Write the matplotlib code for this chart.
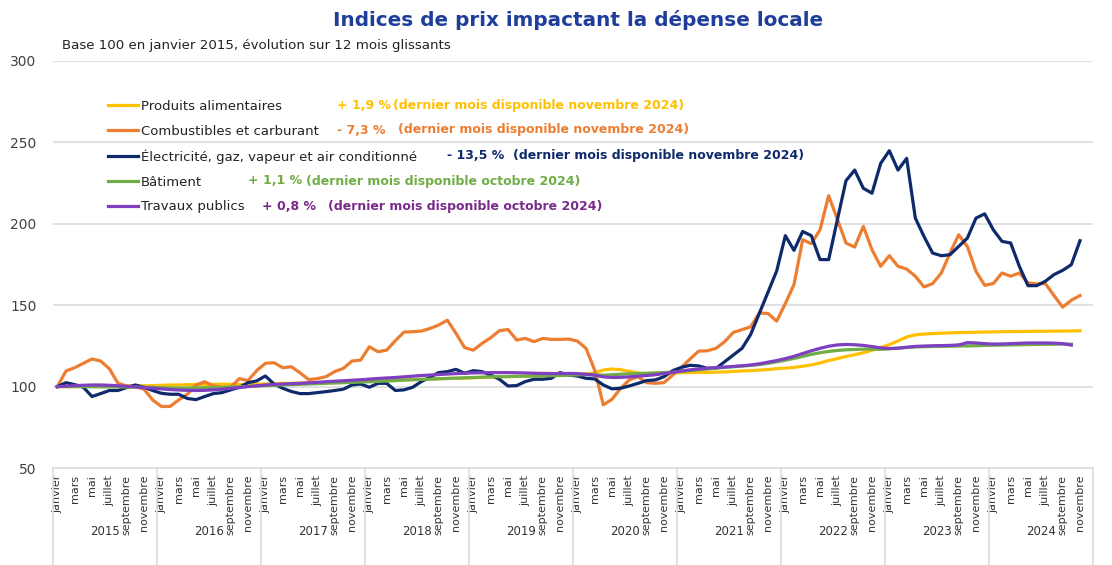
import matplotlib
matplotlib.use("Agg")
import matplotlib.pyplot as plt
from matplotlib.transforms import blended_transform_factory

plt.rcParams['font.family'] = ['DejaVu Sans']

years = ['2015', '2016', '2017', '2018', '2019', '2020', '2021', '2022', '2023', '2024']
month_labels = ['janvier', 'mars', 'mai', 'juillet', 'septembre', 'novembre']

alimentaires = [
    100, 100, 100, 100.2, 100.2, 100.3, 100.3, 100.2, 100.3, 100.5, 100.5, 100.6,
    100.8, 101, 101, 101.2, 101.3, 101.3, 101.4, 101.5, 101.4, 101.3, 101.3, 101.5,
    101.6, 101.8, 102, 102, 102.2, 102.3, 102.5, 102.6, 102.8, 103, 103.1, 103.3,
    103.5, 103.6, 103.8, 104, 104.1, 104.3, 104.5, 104.6, 104.8, 105, 105.1, 105.2,
    105.4, 105.6, 105.8, 106, 106.1, 106.3, 106.4, 106.5, 106.6, 106.8, 107, 107.1,
    107.3, 107.8, 108.5, 110.2, 110.8, 110.4, 109.3, 108.4, 108, 108.3, 108.2, 108.4,
    108.5, 108.6, 108.7, 108.7, 108.9, 109, 109.3, 109.6, 109.8, 110.1, 110.5, 111,
    111.3, 111.8, 112.5, 113.3, 114.5, 116, 117.2, 118.5, 119.6, 120.8, 122.3, 124,
    125.8, 128, 130.5, 131.8, 132.3, 132.6, 132.8, 133, 133.2, 133.3, 133.4, 133.5,
    133.6, 133.7, 133.8, 133.8, 133.9, 134, 134, 134.1, 134.1, 134.2, 134.3]

combustibles = [
    100, 109.6, 111.6, 114.3, 117, 115.7, 111, 102, 100.4, 100, 98.4, 91.8,
    87.8, 87.8, 91.8, 95.3, 101, 103, 100.4, 99.6, 99.6, 104.9, 103.7, 109.8,
    114.3, 114.7, 111.6, 112.2, 108.5, 104.3, 104.9, 106.1, 109.2, 111.2, 115.7, 116.3,
    124.5, 121.4, 122.4, 128.2, 133.5, 133.7, 134.1, 135.7, 137.8, 140.8, 132.7, 123.9,
    122.4, 126.5, 130, 134.3, 135.1, 128.6, 129.6, 127.6, 129.6, 129, 129, 129.2,
    128, 123.5, 110.2, 88.8, 92.2, 99, 104.1, 106.1, 102.4, 102, 102.4, 107.1,
    111.8, 116.9, 121.8, 122, 123.5, 127.6, 133.3, 135, 136.7, 145.3, 144.9, 140.2,
    151, 162.7, 190.2, 187.8, 196.3, 217.3, 202.9, 188.2, 185.7, 198.4, 184.1, 173.9,
    180.4, 173.9, 172.2, 167.8, 161.2, 163.3, 169.8, 182, 193.3, 186.1, 170.8, 162.2,
    163.3, 169.8, 167.8, 169.8, 163.7, 163.1, 163.3, 155.9, 148.8, 153.1, 155.9]

electricite = [
    100, 102.4, 101.2, 99.6, 93.9, 95.7, 97.6, 97.6, 99.4, 101, 99.6, 97.6,
    95.9, 95.3, 95.3, 92.7, 92, 93.9, 95.7, 96.3, 98, 99.6, 102.4, 103.5,
    106.5, 101.6, 99, 97, 95.7, 95.7, 96.3, 96.9, 97.6, 98.4, 101, 101.6,
    99.6, 102, 102, 97.6, 98, 99.6, 103.1, 105.7, 108.6, 109.2, 110.6, 108.2,
    109.8, 109.2, 107.1, 104.5, 100.4, 100.6, 103.1, 104.5, 104.5, 105.1, 108.6, 107.1,
    106.5, 105.1, 104.7, 101, 98.6, 99, 100.4, 102, 103.7, 104.1, 106.1, 109.8,
    111.8, 113.1, 112.7, 111.2, 111.2, 115.3, 119.4, 123.5, 132, 145, 158, 171,
    192.7, 183.7, 195.3, 192.7, 178, 178, 202.4, 226.5, 233, 221.8, 218.8, 237.1,
    244.9, 233, 240.2, 203.5, 192.2, 182, 180.4, 181, 186.1, 191.2, 203.5, 206.1,
    196.3, 189.2, 188.2, 173.9, 162, 162, 164.7, 168.8, 171.4, 174.9, 189.6]

batiment = [
    100, 100, 100, 100, 99.9, 99.9, 99.8, 99.8, 99.7, 99.7, 99.6, 99.5,
    99.3, 99.2, 99.1, 99.1, 99.2, 99.3, 99.4, 99.5, 99.7, 99.9, 100.1, 100.3,
    100.6, 100.8, 101, 101.2, 101.4, 101.6, 101.8, 102, 102.2, 102.4, 102.6, 102.8,
    103, 103.2, 103.4, 103.7, 104, 104.2, 104.4, 104.6, 104.8, 105, 105.2, 105.4,
    105.6, 105.8, 106, 106.1, 106.2, 106.3, 106.4, 106.5, 106.6, 106.7, 106.8, 107,
    107.2, 107.4, 107.3, 107, 107.3, 107.6, 107.9, 108, 108.2, 108.4, 108.6, 108.9,
    109.3, 109.8, 110.3, 110.8, 111.3, 111.8, 112.2, 112.6, 113, 113.5, 114.3, 115.2,
    116.2, 117.3, 118.5, 119.8, 120.8, 121.6, 122.2, 122.6, 122.8, 123, 123, 122.9,
    123.2, 123.6, 124, 124.3, 124.5, 124.6, 124.7, 124.8, 124.9, 125, 125.1, 125.3,
    125.4, 125.5, 125.6, 125.7, 125.8, 125.9, 126, 126, 126.1, 126.1]

travaux_publics = [
    100, 100.3, 100.6, 100.8, 101, 101, 100.8, 100.5, 100.2, 99.8, 99.4, 99,
    98.6, 98.2, 97.9, 97.7, 97.6, 97.7, 98, 98.4, 98.9, 99.4, 100, 100.5,
    101, 101.3, 101.6, 101.8, 102, 102.3, 102.6, 103, 103.3, 103.6, 103.9, 104.2,
    104.6, 105, 105.3, 105.6, 106, 106.4, 106.8, 107.1, 107.4, 107.7, 108, 108.2,
    108.4, 108.5, 108.6, 108.6, 108.6, 108.5, 108.4, 108.2, 108.1, 108, 108, 108.1,
    108, 107.6, 107, 106, 105.6, 105.7, 106, 106.4, 106.8, 107.3, 108, 108.8,
    109.6, 110.3, 110.8, 111.3, 111.7, 112, 112.4, 112.8, 113.3, 114, 115, 116,
    117.2, 118.6, 120.3, 122, 123.5, 124.8, 125.6, 125.9, 125.7, 125.3, 124.6, 123.8,
    123.4, 123.6, 124.2, 124.7, 124.9, 125.1, 125.2, 125.3, 125.6, 127, 126.8, 126.4,
    126.1, 126.2, 126.4, 126.6, 126.8, 126.8, 126.8, 126.7, 126.4, 125.5]

series_names = ['Produits alimentaires', 'Combustibles et carburant',
                'Électricité, gaz, vapeur et air conditionné', 'Bâtiment', 'Travaux publics']
evolutions = ['+ 1,9 %', '- 7,3 %', '- 13,5 %', '+ 1,1 %', '+ 0,8 %']
notes = ['(dernier mois disponible novembre 2024)', '(dernier mois disponible novembre 2024)',
         '(dernier mois disponible novembre 2024)', '(dernier mois disponible octobre 2024)',
         '(dernier mois disponible octobre 2024)']
yticks = [50, 100, 150, 200, 250, 300]

colors = ['#FFC000', '#ED7D31', '#0E2A6B', '#70AD47', '#7E3FC0']
text_colors = ['#FFC000', '#ED7D31', '#0E2A6B', '#70AD47', '#7A2A8C']

W, H = 1112, 565
fig = plt.figure(figsize=(W / 100, H / 100), dpi=100)
ax = fig.add_axes([53 / W, 97 / H, 1040 / W, 407 / H])

data = [alimentaires, combustibles, electricite, batiment, travaux_publics]
handles = []
for vals, c, name in zip(data, colors, series_names):
    h, = ax.plot(range(len(vals)), vals, color=c, lw=2.3, label=name, solid_joinstyle='round')
    handles.append(h)

n_months = 12 * len(years)
ax.set_xlim(-0.5, n_months - 0.5)
ax.set_ylim(50, 300)
ax.set_yticks(yticks)
ax.tick_params(axis='y', length=0, pad=12, labelsize=10, labelcolor='#404040')
ax.yaxis.grid(True, color='#dcdcdc', lw=1.2)
ax.set_axisbelow(True)
for s in ['top', 'right', 'left']:
    ax.spines[s].set_visible(False)
ax.spines['bottom'].set_color('#dcdcdc')
ax.spines['bottom'].set_linewidth(1.2)

xt = list(range(0, n_months, 2))
ax.set_xticks(xt)
ax.set_xticklabels([month_labels[(i % 12) // 2] for i in xt], rotation=90,
                   fontsize=8, color='#333333', va='top', ha='center')
ax.tick_params(axis='x', length=0, pad=5)

trans = blended_transform_factory(ax.transData, ax.transAxes)
for k, y in enumerate(years):
    ax.text(12 * k + 5.5, -0.157, y, transform=trans, ha='center', va='center',
            fontsize=8.5, color='#333333')
for k in range(len(years) + 1):
    ax.plot([12 * k - 0.5, 12 * k - 0.5], [0, -0.25], transform=trans,
            color='#dcdcdc', lw=1.2, clip_on=False)

leg = fig.legend(handles=handles, loc='upper left', bbox_to_anchor=(108 / W, 1 - 100 / H),
                 frameon=False, fontsize=9.5, handlelength=2.25, handletextpad=0.22,
                 labelspacing=0.89, borderaxespad=0, borderpad=0)
for t in leg.get_texts():
    t.set_color('#222222')

ev_x = [337, 337, 447, 248, 262]
note_x = [393, 398, 513, 306, 328]
rows_y = [105, 130, 156, 181, 206]
for e, nt, c, ex, nx, ry in zip(evolutions, notes, text_colors, ev_x, note_x, rows_y):
    fig.text(ex / W, 1 - ry / H, e, color=c, fontsize=9, fontweight='bold', va='center', ha='left')
    fig.text(nx / W, 1 - ry / H, nt, color=c, fontsize=9, fontweight='bold', va='center', ha='left')

fig.text(578 / W, 1 - 20 / H, 'Indices de prix impactant la dépense locale', ha='center', va='center',
         fontsize=14.4, fontweight='bold', color='#1F3E9C')
fig.text(62 / W, 1 - 46 / H, 'Base 100 en janvier 2015, évolution sur 12 mois glissants', ha='left',
         va='center', fontsize=9.6, color='#222222')

fig.savefig('out.png', dpi=100)
